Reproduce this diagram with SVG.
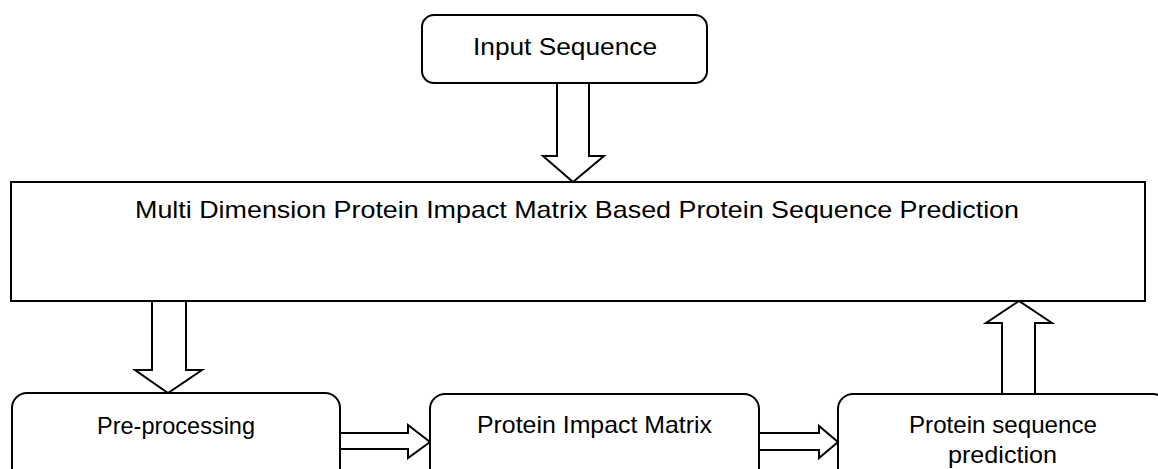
<svg xmlns="http://www.w3.org/2000/svg" width="1158" height="469" viewBox="0 0 1158 469">
<style>
.box{fill:#fff;stroke:#000;stroke-width:2}
.arr{fill:#fff;stroke:#000;stroke-width:2;stroke-linejoin:miter}
.lbl{font-family:"Liberation Sans",Arial,sans-serif;font-size:24px;fill:#000;text-anchor:middle}
</style>
<rect width="1158" height="469" fill="#fff"/>
<g id="connectors">
<path class="arr" d="M557,83 V156 H543 L573,182 L604,156 H589 V83"/>
<path class="arr" d="M152,301 V370 H135 L168,393 L202,370 H186 V301"/>
<path class="arr" d="M340,433 H408 V425 L430,442 L408,458 V449 H340"/>
<path class="arr" d="M759,433 H819 V426 L838,442 L819,458 V450 H759"/>
<path class="arr" d="M1002,394 V323 H986 L1019,301 L1052,323 H1035 V394"/>
</g>
<g id="input">
<rect class="box" x="422" y="15" width="285" height="68" rx="12"/>
<text class="lbl" x="565" y="55" textLength="184" lengthAdjust="spacingAndGlyphs">Input Sequence</text>
</g>
<g id="main">
<rect class="box" x="11" y="182" width="1134" height="119"/>
<text class="lbl" x="577" y="218" textLength="884" lengthAdjust="spacingAndGlyphs">Multi Dimension Protein Impact Matrix Based Protein Sequence Prediction</text>
</g>
<g id="preprocessing">
<rect class="box" x="12" y="393" width="328" height="100" rx="15"/>
<text class="lbl" x="176" y="434" textLength="158" lengthAdjust="spacingAndGlyphs">Pre-processing</text>
</g>
<g id="pim">
<rect class="box" x="430" y="394" width="329" height="100" rx="15"/>
<text class="lbl" x="594.5" y="433" textLength="235" lengthAdjust="spacingAndGlyphs">Protein Impact Matrix</text>
</g>
<g id="prediction">
<rect class="box" x="838" y="394" width="330" height="100" rx="15"/>
<text class="lbl" x="1003" y="433" textLength="188" lengthAdjust="spacingAndGlyphs">Protein sequence</text>
<text class="lbl" x="1002.5" y="463" textLength="109" lengthAdjust="spacingAndGlyphs">prediction</text>
</g>
</svg>
